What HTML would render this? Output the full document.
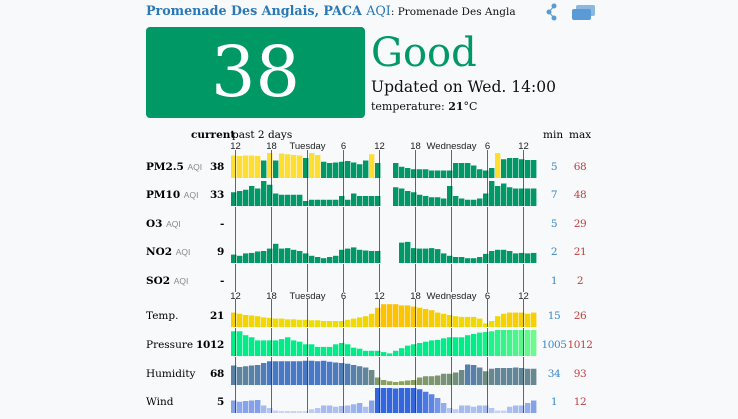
<!DOCTYPE html>
<html><head><meta charset="utf-8">
<style>
body{margin:0;width:738px;height:419px;background:#f7f9fb;overflow:hidden;font-family:"DejaVu Serif","Liberation Serif",serif;position:relative}
.a{position:absolute;white-space:nowrap}
</style></head><body>
<div class="a" style="left:146px;top:3px;width:370px;overflow:hidden;font-size:12.7px;font-weight:bold;color:#2a78b6">Promenade Des Anglais, PACA <span style="font-weight:normal">AQI</span><span style="font-weight:normal;color:#111;font-size:10.5px">: Promenade Des Anglais</span></div>
<svg class="a" style="left:543px;top:1px" width="55" height="22"><circle cx="11" cy="5" r="2.5" fill="#5b9bd5"/><circle cx="6" cy="11" r="2.5" fill="#5b9bd5"/><circle cx="11" cy="17" r="2.5" fill="#5b9bd5"/><path d="M11 5L6 11L11 17" stroke="#5b9bd5" fill="none"/><rect x="33" y="4" width="19" height="11" rx="2" fill="#8ab8e0"/><rect x="29" y="8" width="19" height="11" rx="2" fill="#5b9bd5"/></svg>
<div class="a" style="left:146px;top:27px;width:219px;height:91px;background:#009966;border-radius:4px;color:#fff;font-size:70px;text-align:center;line-height:91px">38</div>
<div class="a" style="left:371px;top:28px;font-size:40px;color:#009966;line-height:50px">Good</div>
<div class="a" style="left:371px;top:78px;font-size:15.5px;color:#111">Updated on Wed. 14:00</div>
<div class="a" style="left:371px;top:100px;font-size:11px;color:#111">temperature: <b>21</b>°C</div>
<div class="a" style="left:191px;top:129px;font-size:10.5px;font-weight:bold">current</div>
<div class="a" style="left:232px;top:129px;font-size:10.5px">past 2 days</div>
<div class="a" style="left:543px;top:129px;font-size:10.5px">min</div>
<div class="a" style="left:569px;top:129px;font-size:10.5px">max</div>
<div id="lab"></div>
<svg id="ch" class="a" style="left:0;top:0" width="738" height="419"></svg>
<script>
var rows=[
["PM2.5",1,"38",178,"5","68"],["PM10",1,"33",206,"7","48"],["O3",1,"-",235,"5","29"],["NO2",1,"9",263,"2","21"],["SO2",1,"-",292,"1","2"],
["Temp.",0,"21",327,"15","26"],["Pressure",0,"1012",356,"1005","1012"],["Humidity",0,"68",385,"34","93"],["Wind",0,"5",413,"1","12"]];
var N=null;
var pm25=[.9,.88,.9,.9,.88,.7,1,.7,.98,.95,.92,.9,.8,1,.92,.65,.6,.62,.65,.68,.62,.55,.7,.95,.6,N,N,.6,.45,.4,.35,.35,.35,.3,.3,.3,.3,.6,.6,.6,.5,.35,.3,.4,1,.75,.8,.8,.75,.72,.72];
var y25=[1,1,1,1,1,0,1,0,1,1,1,1,0,1,1,0,0,0,0,0,0,0,0,1,0,0,0,0,0,0,0,0,0,0,0,0,0,0,0,0,0,0,0,0,1,0,0,0,0,0,0];
var pm10=[.55,.6,.65,.8,.7,1,.85,.5,.45,.45,.45,.45,.2,.25,.25,.25,.25,.25,.4,.25,.5,.4,.4,.4,.4,N,N,.75,.7,.6,.55,.45,.4,.35,.35,.3,.8,.4,.3,.25,.25,.3,.5,1,.8,.9,.75,.7,.7,.7,.7];
var no2=[.35,.3,.4,.42,.48,.5,.6,.8,.6,.62,.55,.5,.4,.3,.25,.2,.25,.3,.55,.6,.65,.55,.52,.5,.5,N,N,N,.85,.88,.62,.6,.6,.62,.58,.4,.3,.25,.25,.2,.2,.25,.38,.5,.55,.55,.5,.4,.42,.4,.42];
var tmp=[.6,.55,.5,.48,.45,.4,.38,.35,.35,.32,.32,.3,.3,.28,.28,.25,.25,.25,.25,.3,.35,.4,.45,.55,.8,.95,.95,.95,.9,.9,.85,.8,.75,.7,.6,.55,.5,.45,.42,.42,.42,.35,.15,.25,.45,.55,.6,.6,.6,.55,.6];
var prs=[.95,.95,.8,.72,.6,.6,.6,.6,.65,.72,.6,.55,.45,.45,.35,.35,.35,.45,.5,.45,.32,.28,.2,.2,.2,.15,.1,.2,.3,.4,.45,.5,.55,.6,.62,.68,.72,.72,.72,.8,.85,.9,.92,.95,1,1,1,1,1,1,1];
var hum=[.78,.72,.75,.78,.8,.88,.95,.95,.95,.95,.95,.95,.97,.97,.95,.97,.93,.9,.88,.85,.8,.75,.7,.6,.3,.2,.15,.12,.15,.18,.2,.3,.35,.35,.38,.45,.45,.5,.6,.82,.8,.7,.55,.65,.68,.68,.68,.7,.68,.65,.65];
var wnd=[.5,.45,.48,.5,.52,.3,.2,.1,.08,.08,.08,.05,.05,.15,.2,.3,.3,.25,.28,.3,.35,.4,.25,.5,1,1,1,.98,1,1,1,.95,.85,.75,.6,.4,.2,.15,.3,.3,.25,.3,.3,.2,.1,.1,.25,.3,.3,.4,.5];
function lerp(a,b,t){return 'rgb('+a.map((v,i)=>Math.round(v+(b[i]-v)*t)).join(',')+')'}
var s='',L='';
var ticks=[235.5,271.5,307.5,343.5,379.5,415.5,451.5,487.5,523.5];
var tl=["12","18","Tuesday","6","12","18","Wednesday","6","12"];
[149,299].forEach(y=>tl.forEach((t,i)=>{s+='<text x="'+ticks[i]+'" y="'+y+'" text-anchor="middle" font-family="Liberation Sans,sans-serif" font-size="9.5" fill="#222">'+t+'</text>'}));
function bars(d,bot,H,col){d.forEach((v,i)=>{if(v==null)return;var h=Math.max(2,v*H);s+='<rect x="'+(231+i*6)+'" y="'+(bot-h)+'" width="5.4" height="'+h+'" fill="'+col(v,i)+'"/>'})}
var G='#009966',Y='#ffde33';
bars(pm25,178,25,(v,i)=>y25[i]?Y:G);
bars(pm10,206,25,()=>G);
bars(no2,263,24,()=>G);
bars(tmp,327,24,v=>lerp([232,232,0],[255,192,0],v));
bars(prs,356,26,(v,i)=>i>40?lerp([0,238,136],[110,250,140],(i-40)/10):'rgb(0,236,136)');
bars(hum,385,25,v=>v>0.6?lerp([106,138,136],[68,119,204],(v-.6)/.4):lerp([153,170,68],[106,138,136],v/.6));
bars(wnd,413,25,v=>lerp([215,222,245],[51,102,221],v));
rows.forEach(r=>{var b=r[3];ticks.forEach(x=>{s+='<line x1="'+x+'" x2="'+x+'" y1="'+(b-28)+'" y2="'+b+'" stroke="#333" stroke-opacity=".75"/>'});
var cy=b-9;
L+='<div class="a" style="left:146px;top:'+(cy-8)+'px;font-size:10.5px;'+(r[1]?'font-weight:bold':'')+'">'+r[0]+(r[1]?' <span style="font-weight:normal;font-size:8.5px;color:#888;font-family:Liberation Sans,sans-serif">AQI</span>':'')+'</div>';
L+='<div class="a" style="left:180px;width:44px;text-align:right;top:'+(cy-8)+'px;font-size:10.5px;font-weight:bold;letter-spacing:-0.3px">'+r[2]+'</div>';
L+='<div class="a" style="left:534px;width:40px;text-align:center;top:'+(cy-8)+'px;font-size:10.5px;letter-spacing:-0.4px;color:#3a87c8">'+r[4]+'</div>';
L+='<div class="a" style="left:560px;width:40px;text-align:center;top:'+(cy-8)+'px;font-size:10.5px;letter-spacing:-0.4px;color:#c04040">'+r[5]+'</div>';});
document.getElementById('ch').innerHTML=s;document.getElementById('lab').innerHTML=L;
</script>
</body></html>
